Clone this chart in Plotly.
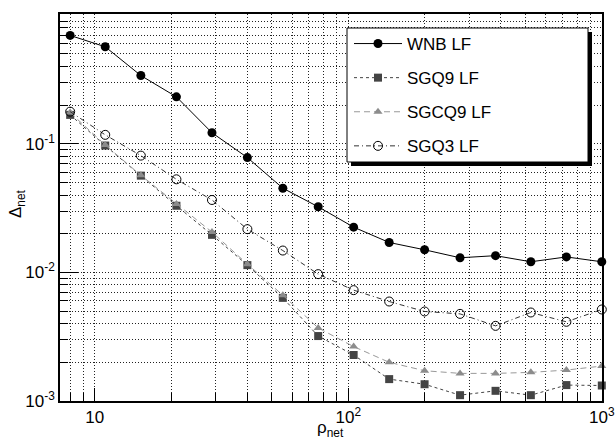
import plotly.graph_objects as go

rho = [8, 11.0, 15.2, 21.0, 29.0, 40.0, 55.2, 76.1, 105, 145, 200, 276, 381, 525, 725, 1000]
wnb = [0.697, 0.569, 0.340, 0.232, 0.122, 0.0782, 0.0452, 0.0324, 0.0225, 0.0171, 0.0150, 0.0130, 0.0135, 0.0121, 0.0132, 0.0121]
sgq9 = [0.168, 0.097, 0.0566, 0.033, 0.0196, 0.0114, 0.00634, 0.0032, 0.00228, 0.00148, 0.00135, 0.00111, 0.0012, 0.00111, 0.00133, 0.00132]
sgcq9 = [0.175, 0.098, 0.057, 0.034, 0.0206, 0.0116, 0.00665, 0.0037, 0.00265, 0.0020, 0.00172, 0.00164, 0.00164, 0.00167, 0.00174, 0.00187]
sgq3 = [0.178, 0.1175, 0.081, 0.053, 0.0366, 0.0217, 0.0148, 0.0097, 0.00728, 0.00594, 0.00497, 0.00476, 0.00384, 0.00488, 0.00413, 0.00515]

x_ticks = [10, 100, 1000]
x_ticktext = ["10", "10<sup>2</sup>", "10<sup>3</sup>"]
y_ticks = [0.001, 0.01, 0.1]
y_ticktext = ["10<sup>-3</sup>", "10<sup>-2</sup>", "10<sup>-1</sup>"]

FONT = "Liberation Sans, Arial, sans-serif"
GRID = dict(showgrid=True, gridcolor="#222222", griddash="1px,2px", gridwidth=1)

fig = go.Figure()
fig.add_trace(go.Scatter(x=rho, y=wnb, name="WNB LF", mode="lines+markers", legendgroup="a", cliponaxis=False,
                         line=dict(color="black", width=1),
                         marker=dict(symbol="circle", size=9, color="black")))
fig.add_trace(go.Scatter(x=rho, y=sgq9, name="SGQ9 LF", mode="lines+markers", legendgroup="b", cliponaxis=False,
                         line=dict(color="#444444", width=1, dash="3px,3px"),
                         marker=dict(symbol="square", size=8, color="#444444")))
fig.add_trace(go.Scatter(x=rho, y=sgcq9, name="SGCQ9 LF", mode="lines+markers", legendgroup="c", cliponaxis=False,
                         line=dict(color="#999999", width=1, dash="6px,4px"),
                         marker=dict(symbol="triangle-up", size=8, color="#8c8c8c")))
fig.add_trace(go.Scatter(x=rho, y=sgq3, name="SGQ3 LF", mode="lines+markers", legendgroup="d", cliponaxis=False,
                         line=dict(color="#333333", width=1, dash="5px,3px,1px,3px"),
                         marker=dict(symbol="circle-open", size=9, color="black", line=dict(width=1))))

minor_x = [m * 10 ** k for k in range(0, 3) for m in range(2, 10)]
minor_y = [m * 10 ** k for k in range(-3, 0) for m in range(2, 10)]

fig.update_xaxes(type="log", range=[0.863, 3.0008], tickmode="array", tickvals=x_ticks, ticktext=x_ticktext,
                 ticks="inside", ticklen=13, tickcolor="black", showline=True, linecolor="black", linewidth=1.5,
                 mirror=True, automargin=False, **GRID,
                 tickfont=dict(family=FONT, size=17, color="black"), zeroline=False,
                 minor=dict(tickmode="array", tickvals=minor_x, ticks="inside", ticklen=8, tickcolor="black", **GRID))
fig.update_yaxes(type="log", range=[-3.0, 0.01], tickmode="array", tickvals=y_ticks, ticktext=y_ticktext,
                 ticks="inside", ticklen=18, tickcolor="black", showline=True, linecolor="black", linewidth=1.5,
                 mirror=True, automargin=False, **GRID,
                 tickfont=dict(family=FONT, size=17, color="black"), zeroline=False,
                 minor=dict(tickmode="array", tickvals=minor_y, ticks="inside", ticklen=8, tickcolor="black", **GRID))

L, R, T, B = 60, 13, 14, 39
W, H = 615, 440
pw, ph = W - L - R, H - T - B

def px(x):
    return (x - L) / pw

def py(y):
    return (H - B - y) / ph

lx0, ly0, lx1, ly1 = 347, 28, 588, 162
shapes = [
    dict(type="rect", xref="paper", yref="paper", x0=px(lx0 + 4), x1=px(lx1 + 4), y0=py(ly1 + 4), y1=py(ly0 + 4),
         fillcolor="black", line=dict(width=0), layer="above"),
    dict(type="rect", xref="paper", yref="paper", x0=px(lx0), x1=px(lx1), y0=py(ly1), y1=py(ly0),
         fillcolor="white", line=dict(color="black", width=1), layer="above"),
]

fig.update_layout(
    width=W, height=H, margin=dict(l=L, r=R, t=T, b=B, autoexpand=False),
    paper_bgcolor="white", plot_bgcolor="white",
    font=dict(family=FONT, size=16, color="black"),
    shapes=shapes,
    showlegend=True,
    legend=dict(x=px(lx0 + 2), y=py(ly0 - 2), xanchor="left", yanchor="top",
                bgcolor="rgba(0,0,0,0)", borderwidth=0, itemwidth=48,
                font=dict(family=FONT, size=17, color="black"), tracegroupgap=9),
    annotations=[
        dict(text="ρ<sub>net</sub>", xref="paper", yref="paper", x=px(330), y=py(429), showarrow=False,
             font=dict(family=FONT, size=17, color="black"), xanchor="center", yanchor="middle"),
        dict(text="Δ<sub>net</sub>", xref="paper", yref="paper", x=px(17), y=py(204), showarrow=False,
             textangle=-90, font=dict(family=FONT, size=17, color="black"), xanchor="center", yanchor="middle"),
    ],
)

fig.write_html("out.html")
